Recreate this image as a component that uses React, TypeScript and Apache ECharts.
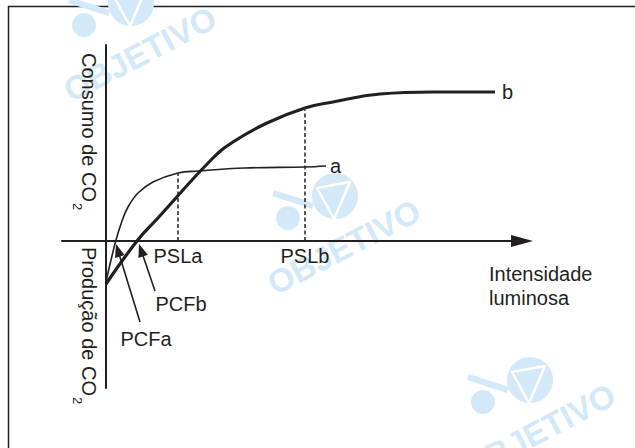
import React, { useEffect, useRef } from "react";
import * as echarts from "echarts";

const INK = "#231f20";
const WATER = "#d3e9f8";
const FONT = '"Liberation Sans", Arial, Helvetica, sans-serif';

// x: intensidade luminosa, y: consumo (+) / produção (-) de CO2 — arbitrary units
const curveA: number[][] = [
  [0, -41], [5, -19], [10, 1], [16, 20], [22, 34], [32, 48], [47, 59],
  [72, 68], [92, 70], [139, 73], [199, 74], [220, 75],
];
const curveB: number[][] = [
  [0, -43], [31, 0], [51, 22], [106, 82], [127, 99], [161, 118],
  [199, 133], [227, 139], [274, 147], [327, 149], [389, 149],
];
const curveNames = ["a", "b"];

const pslX = [72, 199];
const pslTop = [68, 131];
const pslLabels = ["PSLa", "PSLb"];

const pcfLabels = ["PCFa", "PCFb"];
const pcfTip = [[10, -3], [33, -3]];
const pcfTail = [[34, -81], [49, -50]];
const pcfLabelPos = [[40, -98], [75, -63]];

const yTitles = ["Consumo de CO", "Produção de CO"];
const yTitleTop = [188, -6];
const yTitleX = -17;
const xTitleLines = ["Intensidade", "luminosa"];
const xTitlePos = [[383, -33], [383, -57]];

// watermark offsets (relative to the central mark)
const waterOffsets = [[-204, -193], [0, 0], [195, 184]];

function watermark(dx: number, dy: number) {
  return {
    type: "group",
    x: dx,
    y: dy,
    silent: true,
    z: -5,
    children: [
      { type: "circle", z: -5, shape: { cx: 335, cy: 196, r: 23 }, style: { fill: WATER } },
      {
        type: "polygon", z: -4,
        shape: { points: [[317, 188], [350, 182], [334, 219]] },
        style: { fill: "none", stroke: "#ffffff", lineWidth: 2.5, lineJoin: "round" },
      },
      { type: "circle", z: -5, shape: { cx: 288, cy: 218, r: 12 }, style: { fill: WATER } },
      {
        type: "polygon", z: -5,
        shape: { points: [[274, 190], [314, 203], [312, 209], [272, 196]] },
        style: { fill: WATER },
      },
      {
        type: "text", z: -5, x: 344, y: 247, rotation: 0.48,
        style: {
          text: "OBJETIVO", fill: WATER, fontSize: 33, fontWeight: "bold",
          fontFamily: FONT, align: "center", verticalAlign: "middle",
        },
      },
    ],
  };
}

export default function App() {
  const ref = useRef<HTMLDivElement>(null);

  useEffect(() => {
    if (!ref.current) return;
    const chart = echarts.init(ref.current, undefined, { renderer: "svg" });

    const series: any[] = [
      {
        type: "line", data: curveA, symbol: "none", smooth: 0.4,
        lineStyle: { color: INK, width: 1.6 }, z: 5,
        endLabel: { show: true, formatter: curveNames[0], color: INK, fontSize: 20, fontFamily: FONT, distance: 4 },
      },
      {
        type: "line", data: curveB, symbol: "none", smooth: 0.45,
        lineStyle: { color: INK, width: 3.2 }, z: 6,
        endLabel: { show: true, formatter: curveNames[1], color: INK, fontSize: 20, fontFamily: FONT, distance: 7 },
      },
    ];
    pslX.forEach((x, i) => {
      series.push({
        type: "line", data: [[x, 0], [x, pslTop[i]]], symbol: "none",
        lineStyle: { color: INK, width: 1.5, type: [4, 2.5] }, z: 4,
      });
    });

    chart.setOption({
      animation: false,
      grid: { left: 62, right: 113, top: 45, bottom: 60 },
      xAxis: {
        type: "value", min: -44, max: 416,
        axisLine: {
          show: true, onZero: true, symbol: ["none", "triangle"], symbolSize: [12, 22],
          lineStyle: { color: INK, width: 2 },
        },
        axisTick: { show: false }, axisLabel: { show: false }, splitLine: { show: false },
      },
      yAxis: {
        type: "value", min: -147, max: 196,
        axisLine: { show: true, onZero: true, lineStyle: { color: INK, width: 2 } },
        axisTick: { show: false }, axisLabel: { show: false }, splitLine: { show: false },
      },
      series,
    });

    const px = (p: number[]) => chart.convertToPixel({ xAxisIndex: 0, yAxisIndex: 0 }, p) as number[];
    const txt = (text: string, x: number, y: number, align = "center", size = 20) => ({
      type: "text", x, y, z: 20,
      style: { text, fill: INK, fontSize: size, fontFamily: FONT, align, verticalAlign: "middle" },
    });
    const measure = (s: string) => {
      const c = document.createElement("canvas").getContext("2d")!;
      c.font = `20px ${FONT}`;
      return c.measureText(s).width;
    };

    const graphics: any[] = [
      {
        type: "rect", z: -6, silent: true,
        shape: { x: 8.5, y: 6.5, width: 700, height: 520 },
        style: { fill: "none", stroke: INK, lineWidth: 1.5 },
      },
      ...waterOffsets.map(([dx, dy]) => watermark(dx, dy)),
    ];

    pslX.forEach((x, i) => {
      const p = px([x, -15]);
      graphics.push(txt(pslLabels[i], p[0], p[1]));
    });

    pcfLabels.forEach((lab, i) => {
      const lp = px(pcfLabelPos[i]);
      graphics.push(txt(lab, lp[0], lp[1]));
      const t = px(pcfTip[i]);
      const s = px(pcfTail[i]);
      const vx = t[0] - s[0], vy = t[1] - s[1];
      const len = Math.hypot(vx, vy);
      const ux = vx / len, uy = vy / len;
      const hl = 13, hw = 5;
      const bx = t[0] - ux * hl, by = t[1] - uy * hl;
      graphics.push({
        type: "line", z: 20,
        shape: { x1: s[0], y1: s[1], x2: bx + ux, y2: by + uy },
        style: { stroke: INK, lineWidth: 1.6 },
      });
      graphics.push({
        type: "polygon", z: 20,
        shape: { points: [[t[0], t[1]], [bx - uy * hw, by + ux * hw], [bx + uy * hw, by - ux * hw]] },
        style: { fill: INK },
      });
    });

    yTitles.forEach((title, i) => {
      const p = px([yTitleX, yTitleTop[i]]);
      graphics.push({
        type: "group", x: p[0], y: p[1], rotation: -Math.PI / 2, z: 20,
        children: [
          {
            type: "text", x: 0, y: 0, z: 20,
            style: { text: title, fill: INK, fontSize: 20, fontFamily: FONT, align: "left", verticalAlign: "middle" },
          },
          {
            type: "text", x: measure(title) + 1, y: 12, z: 20,
            style: { text: "2", fill: INK, fontSize: 13, fontFamily: FONT, align: "left", verticalAlign: "middle" },
          },
        ],
      });
    });

    xTitleLines.forEach((line, i) => {
      const p = px(xTitlePos[i]);
      graphics.push(txt(line, p[0], p[1], "left"));
    });

    chart.setOption({ graphic: graphics });

    return () => chart.dispose();
  }, []);

  return (
    <div
      ref={ref}
      style={{ position: "fixed", left: 0, top: 0, width: 635, height: 448, background: "#ffffff" }}
    />
  );
}
